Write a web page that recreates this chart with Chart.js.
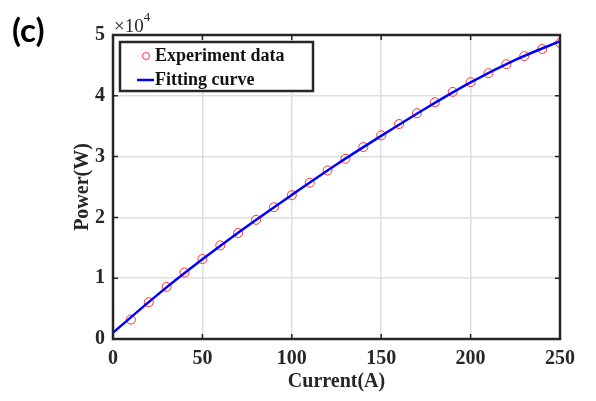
<!DOCTYPE html>
<html>
<head>
<meta charset="utf-8">
<script src="https://cdn.jsdelivr.net/npm/chart.js@4.4.1/dist/chart.umd.min.js"></script>
<style>
  html, body { margin: 0; padding: 0; background: #fff; }
  #wrap { width: 596px; height: 401px; position: relative; }
</style>
</head>
<body>
<div id="wrap"><canvas id="grafico"></canvas></div>
<script>
// ==================== DATOS ====================
const corrienteExp = [10, 20, 30, 40, 50, 60, 70, 80, 90, 100, 110, 120, 130, 140, 150, 160, 170, 180, 190, 200, 210, 220, 230, 240, 250];
const potenciaExp = [3200, 6050, 8580, 10940, 13150, 15400, 17440, 19600, 21670, 23650, 25700, 27720, 29650, 31570, 33500, 35360, 37130, 38940, 40650, 42240, 43730, 45200, 46530, 47700, 48700];

const corrienteAjuste = [0, 25, 50, 75, 100, 125, 150, 175, 200, 225, 250];
const potenciaAjuste = [1050, 7300, 13100, 18550, 23700, 28700, 33400, 37950, 42200, 45900, 49000];

const ticksX = [0, 50, 100, 150, 200, 250];
const ticksY = [0, 10000, 20000, 30000, 40000, 50000];

const etiquetas = ['Experiment data', 'Fitting curve'];

const colorEje = '#262626';
const fuenteSerif = '"Liberation Serif", "Times New Roman", serif';

// ==================== MARCO, LEYENDA Y TEXTOS ====================
const marcoPlugin = {
    id: 'marco',
    afterDraw(chart) {
        const { ctx, chartArea: a, scales } = chart;
        ctx.save();

        // ticks hacia dentro
        ctx.strokeStyle = colorEje;
        ctx.lineWidth = 1.5;
        const largo = 5;
        ticksX.slice(1, -1).forEach(v => {
            const x = scales.x.getPixelForValue(v);
            ctx.beginPath();
            ctx.moveTo(x, a.bottom); ctx.lineTo(x, a.bottom - largo);
            ctx.moveTo(x, a.top); ctx.lineTo(x, a.top + largo);
            ctx.stroke();
        });
        ticksY.slice(1, -1).forEach(v => {
            const y = scales.y.getPixelForValue(v);
            ctx.beginPath();
            ctx.moveTo(a.left, y); ctx.lineTo(a.left + largo, y);
            ctx.moveTo(a.right, y); ctx.lineTo(a.right - largo, y);
            ctx.stroke();
        });

        // marco
        ctx.lineWidth = 2.5;
        ctx.strokeRect(a.left, a.top, a.right - a.left, a.bottom - a.top);

        // leyenda
        const lx = 120, ly = 42, lw = 193, lh = 49;
        ctx.fillStyle = '#fff';
        ctx.fillRect(lx, ly, lw, lh);
        ctx.lineWidth = 2.5;
        ctx.strokeStyle = colorEje;
        ctx.strokeRect(lx, ly, lw, lh);

        const dsExp = chart.data.datasets[1];
        const dsFit = chart.data.datasets[0];
        ctx.strokeStyle = dsExp.borderColor;
        ctx.lineWidth = 1;
        ctx.beginPath();
        ctx.arc(146, 56, 3.5, 0, Math.PI * 2);
        ctx.stroke();

        ctx.strokeStyle = dsFit.borderColor;
        ctx.lineWidth = 2.5;
        ctx.beginPath();
        ctx.moveTo(137, 80); ctx.lineTo(154, 80);
        ctx.stroke();

        ctx.fillStyle = '#111';
        ctx.font = 'bold 18px ' + fuenteSerif;
        ctx.textAlign = 'left';
        ctx.textBaseline = 'middle';
        ctx.fillText(etiquetas[0], 155, 56);
        ctx.fillText(etiquetas[1], 155, 80);

        // multiplicador x10^4
        ctx.fillStyle = colorEje;
        ctx.font = '19px ' + fuenteSerif;
        ctx.textBaseline = 'alphabetic';
        ctx.fillText('\u00d710', 114, 32);
        const ancho = ctx.measureText('\u00d710').width;
        ctx.font = '13px ' + fuenteSerif;
        ctx.fillText('4', 114 + ancho, 21);

        // etiqueta del panel
        ctx.fillStyle = '#000';
        ctx.font = 'bold 33px Lato, "Open Sans", sans-serif';
        ctx.fillText('(c)', 12, 42);

        ctx.restore();
    }
};

// ==================== GRÁFICO ====================
const ctx = document.getElementById('grafico').getContext('2d');
const grafico = new Chart(ctx, {
    type: 'scatter',
    data: {
        datasets: [{
            label: etiquetas[1],
            type: 'line',
            data: corrienteAjuste.map((x, i) => ({ x, y: potenciaAjuste[i] })),
            borderColor: '#0000ff',
            borderWidth: 2.5,
            pointRadius: 0,
            cubicInterpolationMode: 'monotone',
            fill: false,
            order: 0
        }, {
            label: etiquetas[0],
            data: corrienteExp.map((x, i) => ({ x, y: potenciaExp[i] })),
            borderColor: '#ff3030',
            backgroundColor: 'rgba(0,0,0,0)',
            borderWidth: 1,
            pointRadius: 4.5,
            pointStyle: 'circle',
            order: 1
        }]
    },
    options: {
        responsive: true,
        maintainAspectRatio: false,
        animation: false,
        layout: { padding: { top: 35, right: 36, left: 0, bottom: 0 } },
        plugins: { legend: { display: false }, tooltip: { enabled: false } },
        scales: {
            x: {
                type: 'linear',
                min: 0, max: 250,
                afterBuildTicks: s => { s.ticks = ticksX.map(v => ({ value: v })); },
                afterFit: s => { s.height = 62; },
                grid: { color: '#dedede', lineWidth: 1.5, drawTicks: false },
                border: { display: false },
                ticks: { color: colorEje, padding: 8, font: { family: fuenteSerif, size: 20, weight: 'bold' } },
                title: {
                    display: true, text: 'Current(A)', color: colorEje,
                    font: { family: fuenteSerif, size: 20, weight: 'bold' },
                    padding: { top: 0, bottom: 7 }
                }
            },
            y: {
                type: 'linear',
                min: 0, max: 50000,
                afterBuildTicks: s => { s.ticks = ticksY.map(v => ({ value: v })); },
                afterFit: s => { s.width = 113; },
                grid: { color: '#dedede', lineWidth: 1.5, drawTicks: false },
                border: { display: false },
                ticks: {
                    color: colorEje, padding: 8,
                    font: { family: fuenteSerif, size: 20, weight: 'bold' },
                    callback: v => v / 10000
                },
                title: {
                    display: true, text: 'Power(W)', color: colorEje,
                    font: { family: fuenteSerif, size: 20, weight: 'bold' },
                    padding: { top: 71, bottom: 0 }
                }
            }
        }
    },
    plugins: [marcoPlugin]
});
</script>
</body>
</html>
